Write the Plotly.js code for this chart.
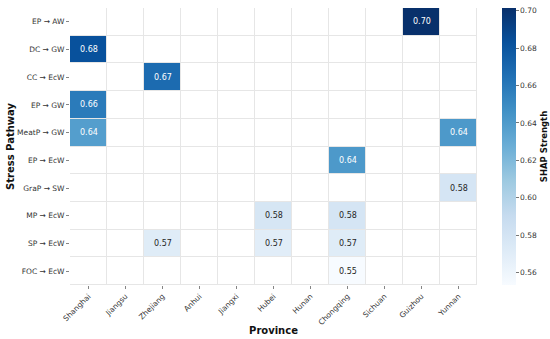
<!DOCTYPE html>
<html>
<head>
<meta charset="utf-8">
<script src="https://cdn.plot.ly/plotly-3.0.1.min.js"></script>
<style>html,body{margin:0;padding:0;background:#fff;}#chart{width:550px;height:339px;}</style>
</head>
<body>
<div id="chart"></div>
<script>
const provinces = ["Shanghai","Jiangsu","Zhejiang","Anhui","Jiangxi","Hubei","Hunan","Chongqing","Sichuan","Guizhou","Yunnan"];
const pathways = ["EP → AW","DC → GW","CC → EcW","EP → GW","MeatP → GW","EP → EcW","GraP → SW","MP → EcW","SP → EcW","FOC → EcW"];
// rows follow pathways, columns follow provinces; null = no link
const shap = [
  [null,null,null,null,null,null,null,null,null,0.7014,null],
  [0.683,null,null,null,null,null,null,null,null,null,null],
  [null,null,0.668,null,null,null,null,null,null,null,null],
  [0.659,null,null,null,null,null,null,null,null,null,null],
  [0.638,null,null,null,null,null,null,null,null,null,0.641],
  [null,null,null,null,null,null,null,0.641,null,null,null],
  [null,null,null,null,null,null,null,null,null,null,0.579],
  [null,null,null,null,null,0.578,null,0.579,null,null,null],
  [null,null,0.571,null,null,0.570,null,0.571,null,null,null],
  [null,null,null,null,null,null,null,0.5534,null,null,null]
];
const colorbarTicks = [0.56,0.58,0.60,0.62,0.64,0.66,0.68,0.70];

const blues = ["#f7fbff","#deebf7","#c6dbef","#9ecae1","#6baed6","#4292c6","#2171b5","#08519c","#08306b"];
const cs = blues.map((c,i)=>[i/(blues.length-1), c]);

let zmin = Infinity, zmax = -Infinity;
shap.forEach(r=>r.forEach(v=>{ if(v!==null){ zmin=Math.min(zmin,v); zmax=Math.max(zmax,v);} }));

function hexToRgb(h){ return [parseInt(h.substr(1,2),16),parseInt(h.substr(3,2),16),parseInt(h.substr(5,2),16)]; }
function colorAt(t){
  const n = blues.length-1; const p = Math.max(0,Math.min(1,t))*n; const i = Math.min(Math.floor(p), n-1); const f = p-i;
  const a = hexToRgb(blues[i]), b = hexToRgb(blues[i+1]);
  return a.map((v,k)=>v+(b[k]-v)*f);
}
function lum(rgb){
  const c = rgb.map(v=>{ v/=255; return v<=0.03928? v/12.92 : Math.pow((v+0.055)/1.055,2.4); });
  return 0.2126*c[0]+0.7152*c[1]+0.0722*c[2];
}

const annotations = [];
shap.forEach((row,i)=>row.forEach((v,j)=>{
  if(v===null) return;
  const rgb = colorAt((v-zmin)/(zmax-zmin));
  annotations.push({x: provinces[j], y: pathways[i], xref:'x', yref:'y', text: v.toFixed(2), showarrow:false,
    font:{family:'DejaVu Sans', size:8, color: lum(rgb)>0.408 ? '#262626' : '#ffffff'}});
}));

const bg = {
  type:'heatmap', x: provinces, y: pathways,
  z: pathways.map(()=>provinces.map(()=>0)),
  colorscale:[[0,'#ffffff'],[1,'#ffffff']], showscale:false, xgap:1, ygap:1, hoverinfo:'skip'
};
const hm = {
  type:'heatmap', x: provinces, y: pathways, z: shap,
  colorscale: cs, zmin: zmin, zmax: zmax, xgap:1, ygap:1,
  colorbar:{
    x:1.061, xanchor:'left', xref:'paper', xpad:0, y:0.5, yanchor:'middle', ypad:0, len:1, lenmode:'fraction', thickness:14,
    outlinewidth:0, ticks:'outside', ticklen:3, tickcolor:'#555', tickwidth:0.8,
    tickvals: colorbarTicks, ticktext: colorbarTicks.map(v=>v.toFixed(2)),
    tickfont:{family:'DejaVu Sans', size:7.5, color:'#333'},
    title:{text:'<b>SHAP Strength</b>', side:'right', font:{family:'DejaVu Sans', size:8.5, color:'#111'}}
  }
};

const layout = {
  width:550, height:339,
  margin:{l:70, r:73, t:8, b:54, autoexpand:false},
  paper_bgcolor:'#ffffff', plot_bgcolor:'#e6e6e6',
  font:{family:'DejaVu Sans', color:'#333'},
  xaxis:{type:'category', categoryarray: provinces, tickangle:-45, ticks:'outside', ticklen:3, tickcolor:'#666', tickwidth:0.8,
    tickfont:{family:'DejaVu Sans', size:7.5, color:'#333'}, showgrid:false, zeroline:false, showline:false, automargin:false,
    title:{text:'<b>Province</b>', font:{family:'DejaVu Sans', size:10, color:'#111'}, standoff:1}},
  yaxis:{type:'category', categoryarray: pathways, autorange:'reversed', ticks:'outside', ticklen:3, tickcolor:'#666', tickwidth:0.8,
    tickfont:{family:'DejaVu Sans', size:7.5, color:'#333'}, showgrid:false, zeroline:false, showline:false, automargin:false,
    title:{text:'<b>Stress Pathway</b>', font:{family:'DejaVu Sans', size:10, color:'#111'}, standoff:0}},
  annotations: annotations
};
Plotly.newPlot('chart',[bg,hm],layout,{displayModeBar:false, staticPlot:true});
</script>
</body>
</html>
